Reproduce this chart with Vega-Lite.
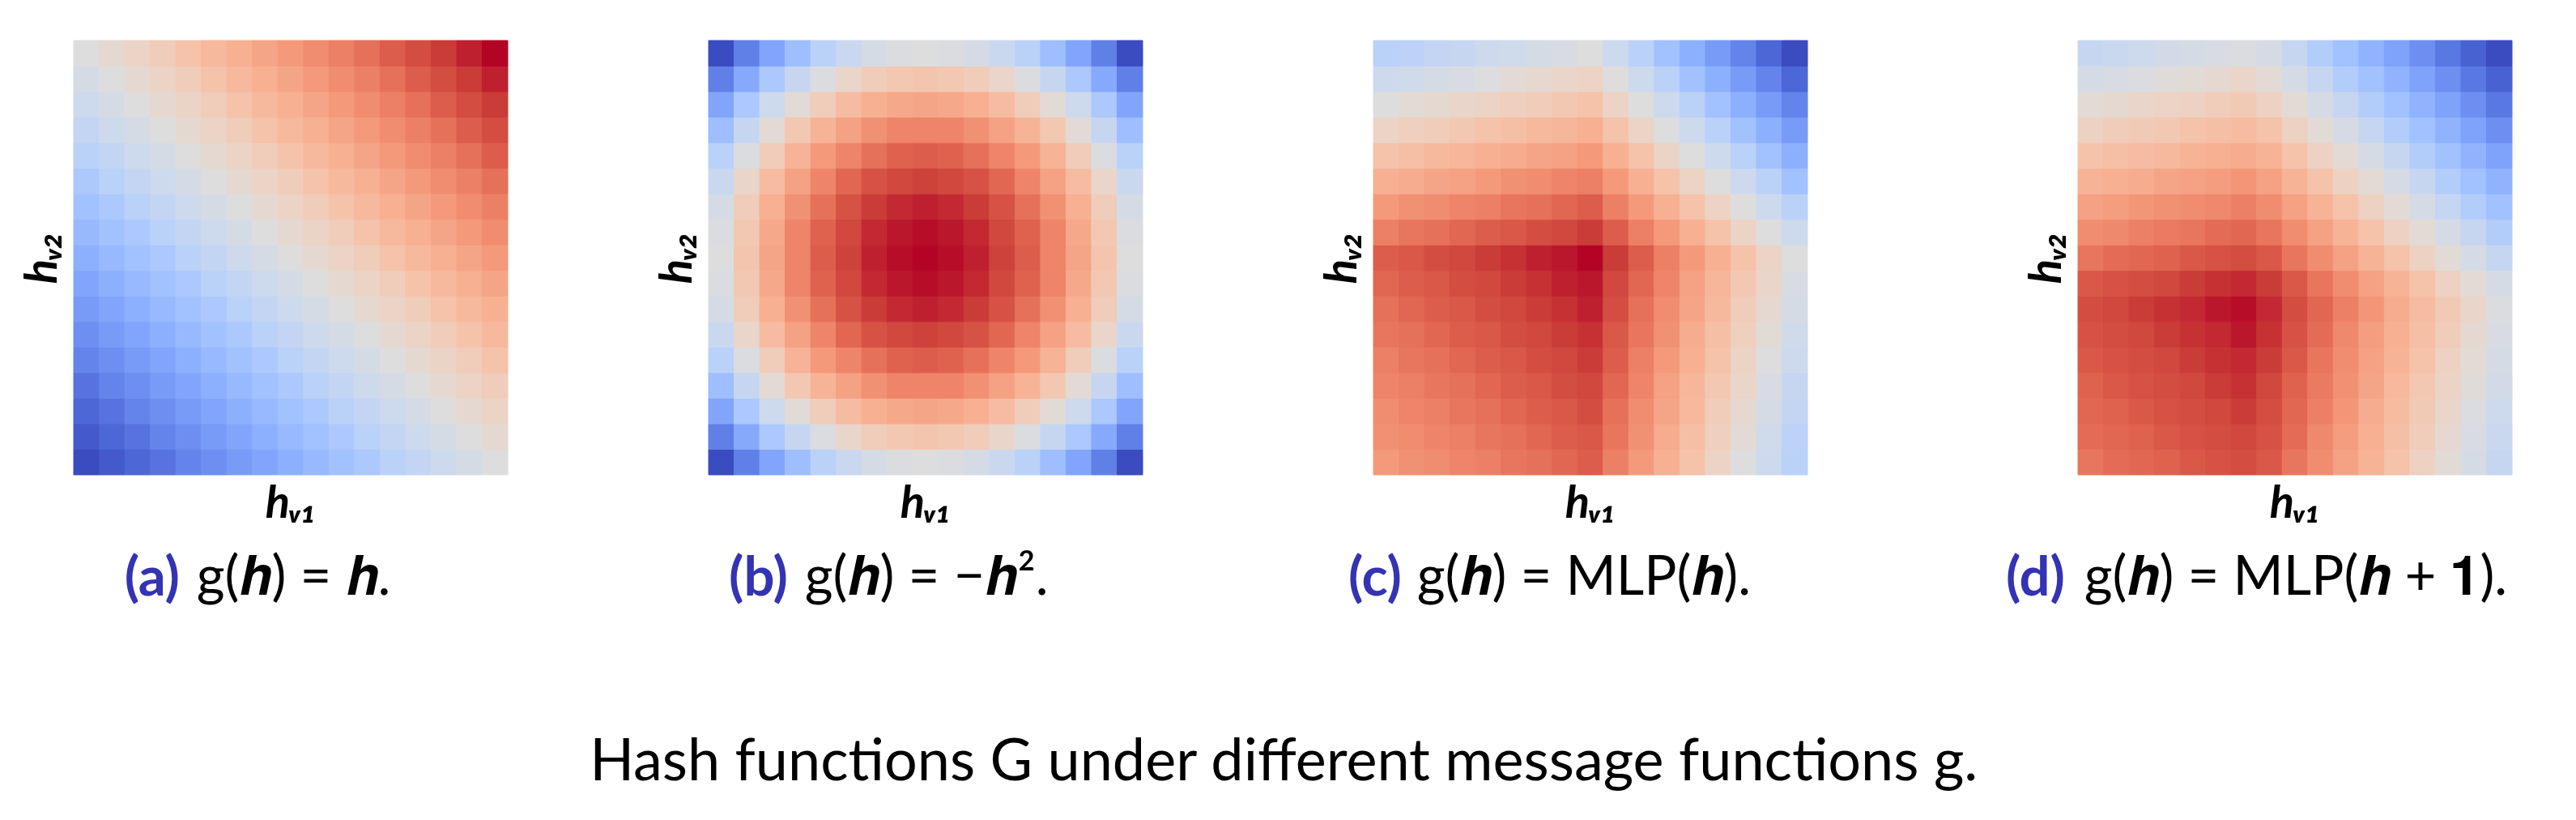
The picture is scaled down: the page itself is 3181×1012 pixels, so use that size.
{
"$schema": "https://vega.github.io/schema/vega-lite/v6.json",
"background": "white",
"padding": {"left": 24, "top": 49, "right": 0, "bottom": 0},
"config": {
 "view": {"stroke": null},
 "axis": {"labels": false, "ticks": false, "domain": false, "grid": false, "titleFont": "Lato", "titleFontSize": 56, "titleFontWeight": "bold", "titleFontStyle": "italic", "titleColor": "black"},
 "title": {"fontWeight": "normal", "color": "black"}
},
"datasets": {"g": [
{"x":0,"y":0,"a":0,"b":0,"c":75,"d":83},{"x":1,"y":0,"a":3,"b":12,"c":77,"d":85},{"x":2,"y":0,"a":6,"b":22,"c":78,"d":86},{"x":3,"y":0,"a":9,"b":30,"c":80,"d":87},{"x":4,"y":0,"a":13,"b":38,"c":81,"d":89},{"x":5,"y":0,"a":16,"b":43,"c":83,"d":90},{"x":6,"y":0,"a":19,"b":47,"c":84,"d":91},{"x":7,"y":0,"a":22,"b":49,"c":86,"d":89},{"x":8,"y":0,"a":25,"b":50,"c":88,"d":83},{"x":9,"y":0,"a":28,"b":49,"c":81,"d":78},{"x":10,"y":0,"a":31,"b":47,"c":75,"d":73},{"x":11,"y":0,"a":34,"b":43,"c":69,"d":68},{"x":12,"y":0,"a":38,"b":38,"c":63,"d":63},{"x":13,"y":0,"a":41,"b":30,"c":56,"d":57},{"x":14,"y":0,"a":44,"b":22,"c":50,"d":52},{"x":15,"y":0,"a":47,"b":12,"c":44,"d":47},{"x":16,"y":0,"a":50,"b":0,"c":38,"d":42},
{"x":0,"y":1,"a":3,"b":12,"c":77,"d":85},{"x":1,"y":1,"a":6,"b":23,"c":78,"d":86},{"x":2,"y":1,"a":9,"b":34,"c":80,"d":87},{"x":3,"y":1,"a":13,"b":42,"c":81,"d":89},{"x":4,"y":1,"a":16,"b":49,"c":83,"d":90},{"x":5,"y":1,"a":19,"b":55,"c":84,"d":91},{"x":6,"y":1,"a":22,"b":59,"c":86,"d":92},{"x":7,"y":1,"a":25,"b":61,"c":88,"d":90},{"x":8,"y":1,"a":28,"b":62,"c":89,"d":85},{"x":9,"y":1,"a":31,"b":61,"c":83,"d":79},{"x":10,"y":1,"a":34,"b":59,"c":77,"d":74},{"x":11,"y":1,"a":38,"b":55,"c":70,"d":69},{"x":12,"y":1,"a":41,"b":49,"c":64,"d":64},{"x":13,"y":1,"a":44,"b":42,"c":58,"d":59},{"x":14,"y":1,"a":47,"b":34,"c":52,"d":53},{"x":15,"y":1,"a":50,"b":23,"c":45,"d":48},{"x":16,"y":1,"a":53,"b":12,"c":39,"d":43},
{"x":0,"y":2,"a":6,"b":22,"c":78,"d":86},{"x":1,"y":2,"a":9,"b":34,"c":80,"d":87},{"x":2,"y":2,"a":13,"b":44,"c":81,"d":89},{"x":3,"y":2,"a":16,"b":52,"c":83,"d":90},{"x":4,"y":2,"a":19,"b":59,"c":84,"d":91},{"x":5,"y":2,"a":22,"b":65,"c":86,"d":92},{"x":6,"y":2,"a":25,"b":69,"c":88,"d":94},{"x":7,"y":2,"a":28,"b":71,"c":89,"d":91},{"x":8,"y":2,"a":31,"b":72,"c":91,"d":86},{"x":9,"y":2,"a":34,"b":71,"c":84,"d":81},{"x":10,"y":2,"a":38,"b":69,"c":78,"d":76},{"x":11,"y":2,"a":41,"b":65,"c":72,"d":70},{"x":12,"y":2,"a":44,"b":59,"c":66,"d":65},{"x":13,"y":2,"a":47,"b":52,"c":59,"d":60},{"x":14,"y":2,"a":50,"b":44,"c":53,"d":55},{"x":15,"y":2,"a":53,"b":34,"c":47,"d":49},{"x":16,"y":2,"a":56,"b":22,"c":41,"d":44},
{"x":0,"y":3,"a":9,"b":30,"c":80,"d":87},{"x":1,"y":3,"a":13,"b":42,"c":81,"d":89},{"x":2,"y":3,"a":16,"b":52,"c":83,"d":90},{"x":3,"y":3,"a":19,"b":61,"c":84,"d":91},{"x":4,"y":3,"a":22,"b":68,"c":86,"d":92},{"x":5,"y":3,"a":25,"b":73,"c":88,"d":94},{"x":6,"y":3,"a":28,"b":77,"c":89,"d":95},{"x":7,"y":3,"a":31,"b":80,"c":91,"d":92},{"x":8,"y":3,"a":34,"b":80,"c":92,"d":87},{"x":9,"y":3,"a":38,"b":80,"c":86,"d":82},{"x":10,"y":3,"a":41,"b":77,"c":80,"d":77},{"x":11,"y":3,"a":44,"b":73,"c":73,"d":72},{"x":12,"y":3,"a":47,"b":68,"c":67,"d":66},{"x":13,"y":3,"a":50,"b":61,"c":61,"d":61},{"x":14,"y":3,"a":53,"b":52,"c":55,"d":56},{"x":15,"y":3,"a":56,"b":42,"c":48,"d":51},{"x":16,"y":3,"a":59,"b":30,"c":42,"d":46},
{"x":0,"y":4,"a":13,"b":38,"c":81,"d":89},{"x":1,"y":4,"a":16,"b":49,"c":83,"d":90},{"x":2,"y":4,"a":19,"b":59,"c":84,"d":91},{"x":3,"y":4,"a":22,"b":68,"c":86,"d":92},{"x":4,"y":4,"a":25,"b":75,"c":88,"d":94},{"x":5,"y":4,"a":28,"b":80,"c":89,"d":95},{"x":6,"y":4,"a":31,"b":84,"c":91,"d":96},{"x":7,"y":4,"a":34,"b":87,"c":92,"d":94},{"x":8,"y":4,"a":38,"b":88,"c":94,"d":89},{"x":9,"y":4,"a":41,"b":87,"c":88,"d":83},{"x":10,"y":4,"a":44,"b":84,"c":81,"d":78},{"x":11,"y":4,"a":47,"b":80,"c":75,"d":73},{"x":12,"y":4,"a":50,"b":75,"c":69,"d":68},{"x":13,"y":4,"a":53,"b":68,"c":63,"d":63},{"x":14,"y":4,"a":56,"b":59,"c":56,"d":57},{"x":15,"y":4,"a":59,"b":49,"c":50,"d":52},{"x":16,"y":4,"a":63,"b":38,"c":44,"d":47},
{"x":0,"y":5,"a":16,"b":43,"c":83,"d":90},{"x":1,"y":5,"a":19,"b":55,"c":84,"d":91},{"x":2,"y":5,"a":22,"b":65,"c":86,"d":92},{"x":3,"y":5,"a":25,"b":73,"c":88,"d":94},{"x":4,"y":5,"a":28,"b":80,"c":89,"d":95},{"x":5,"y":5,"a":31,"b":86,"c":91,"d":96},{"x":6,"y":5,"a":34,"b":90,"c":92,"d":98},{"x":7,"y":5,"a":38,"b":92,"c":94,"d":95},{"x":8,"y":5,"a":41,"b":93,"c":95,"d":90},{"x":9,"y":5,"a":44,"b":92,"c":89,"d":85},{"x":10,"y":5,"a":47,"b":90,"c":83,"d":79},{"x":11,"y":5,"a":50,"b":86,"c":77,"d":74},{"x":12,"y":5,"a":53,"b":80,"c":70,"d":69},{"x":13,"y":5,"a":56,"b":73,"c":64,"d":64},{"x":14,"y":5,"a":59,"b":65,"c":58,"d":59},{"x":15,"y":5,"a":63,"b":55,"c":52,"d":53},{"x":16,"y":5,"a":66,"b":43,"c":45,"d":48},
{"x":0,"y":6,"a":19,"b":47,"c":84,"d":91},{"x":1,"y":6,"a":22,"b":59,"c":86,"d":92},{"x":2,"y":6,"a":25,"b":69,"c":88,"d":94},{"x":3,"y":6,"a":28,"b":77,"c":89,"d":95},{"x":4,"y":6,"a":31,"b":84,"c":91,"d":96},{"x":5,"y":6,"a":34,"b":90,"c":92,"d":98},{"x":6,"y":6,"a":38,"b":94,"c":94,"d":99},{"x":7,"y":6,"a":41,"b":96,"c":95,"d":96},{"x":8,"y":6,"a":44,"b":97,"c":97,"d":91},{"x":9,"y":6,"a":47,"b":96,"c":91,"d":86},{"x":10,"y":6,"a":50,"b":94,"c":84,"d":81},{"x":11,"y":6,"a":53,"b":90,"c":78,"d":76},{"x":12,"y":6,"a":56,"b":84,"c":72,"d":70},{"x":13,"y":6,"a":59,"b":77,"c":66,"d":65},{"x":14,"y":6,"a":63,"b":69,"c":59,"d":60},{"x":15,"y":6,"a":66,"b":59,"c":53,"d":55},{"x":16,"y":6,"a":69,"b":47,"c":47,"d":49},
{"x":0,"y":7,"a":22,"b":49,"c":86,"d":89},{"x":1,"y":7,"a":25,"b":61,"c":88,"d":90},{"x":2,"y":7,"a":28,"b":71,"c":89,"d":91},{"x":3,"y":7,"a":31,"b":80,"c":91,"d":92},{"x":4,"y":7,"a":34,"b":87,"c":92,"d":94},{"x":5,"y":7,"a":38,"b":92,"c":94,"d":95},{"x":6,"y":7,"a":41,"b":96,"c":95,"d":96},{"x":7,"y":7,"a":44,"b":98,"c":97,"d":94},{"x":8,"y":7,"a":47,"b":99,"c":98,"d":89},{"x":9,"y":7,"a":50,"b":98,"c":92,"d":83},{"x":10,"y":7,"a":53,"b":96,"c":86,"d":78},{"x":11,"y":7,"a":56,"b":92,"c":80,"d":73},{"x":12,"y":7,"a":59,"b":87,"c":73,"d":68},{"x":13,"y":7,"a":63,"b":80,"c":67,"d":63},{"x":14,"y":7,"a":66,"b":71,"c":61,"d":57},{"x":15,"y":7,"a":69,"b":61,"c":55,"d":52},{"x":16,"y":7,"a":72,"b":49,"c":48,"d":47},
{"x":0,"y":8,"a":25,"b":50,"c":88,"d":83},{"x":1,"y":8,"a":28,"b":62,"c":89,"d":85},{"x":2,"y":8,"a":31,"b":72,"c":91,"d":86},{"x":3,"y":8,"a":34,"b":80,"c":92,"d":87},{"x":4,"y":8,"a":38,"b":88,"c":94,"d":89},{"x":5,"y":8,"a":41,"b":93,"c":95,"d":90},{"x":6,"y":8,"a":44,"b":97,"c":97,"d":91},{"x":7,"y":8,"a":47,"b":99,"c":98,"d":89},{"x":8,"y":8,"a":50,"b":100,"c":100,"d":83},{"x":9,"y":8,"a":53,"b":99,"c":94,"d":78},{"x":10,"y":8,"a":56,"b":97,"c":88,"d":73},{"x":11,"y":8,"a":59,"b":93,"c":81,"d":68},{"x":12,"y":8,"a":63,"b":88,"c":75,"d":63},{"x":13,"y":8,"a":66,"b":80,"c":69,"d":57},{"x":14,"y":8,"a":69,"b":72,"c":63,"d":52},{"x":15,"y":8,"a":72,"b":62,"c":56,"d":47},{"x":16,"y":8,"a":75,"b":50,"c":50,"d":42},
{"x":0,"y":9,"a":28,"b":49,"c":81,"d":78},{"x":1,"y":9,"a":31,"b":61,"c":83,"d":79},{"x":2,"y":9,"a":34,"b":71,"c":84,"d":81},{"x":3,"y":9,"a":38,"b":80,"c":86,"d":82},{"x":4,"y":9,"a":41,"b":87,"c":88,"d":83},{"x":5,"y":9,"a":44,"b":92,"c":89,"d":85},{"x":6,"y":9,"a":47,"b":96,"c":91,"d":86},{"x":7,"y":9,"a":50,"b":98,"c":92,"d":83},{"x":8,"y":9,"a":53,"b":99,"c":94,"d":78},{"x":9,"y":9,"a":56,"b":98,"c":88,"d":73},{"x":10,"y":9,"a":59,"b":96,"c":81,"d":68},{"x":11,"y":9,"a":63,"b":92,"c":75,"d":63},{"x":12,"y":9,"a":66,"b":87,"c":69,"d":57},{"x":13,"y":9,"a":69,"b":80,"c":63,"d":52},{"x":14,"y":9,"a":72,"b":71,"c":56,"d":47},{"x":15,"y":9,"a":75,"b":61,"c":50,"d":42},{"x":16,"y":9,"a":78,"b":49,"c":44,"d":36},
{"x":0,"y":10,"a":31,"b":47,"c":75,"d":73},{"x":1,"y":10,"a":34,"b":59,"c":77,"d":74},{"x":2,"y":10,"a":38,"b":69,"c":78,"d":76},{"x":3,"y":10,"a":41,"b":77,"c":80,"d":77},{"x":4,"y":10,"a":44,"b":84,"c":81,"d":78},{"x":5,"y":10,"a":47,"b":90,"c":83,"d":79},{"x":6,"y":10,"a":50,"b":94,"c":84,"d":81},{"x":7,"y":10,"a":53,"b":96,"c":86,"d":78},{"x":8,"y":10,"a":56,"b":97,"c":88,"d":73},{"x":9,"y":10,"a":59,"b":96,"c":81,"d":68},{"x":10,"y":10,"a":63,"b":94,"c":75,"d":63},{"x":11,"y":10,"a":66,"b":90,"c":69,"d":57},{"x":12,"y":10,"a":69,"b":84,"c":63,"d":52},{"x":13,"y":10,"a":72,"b":77,"c":56,"d":47},{"x":14,"y":10,"a":75,"b":69,"c":50,"d":42},{"x":15,"y":10,"a":78,"b":59,"c":44,"d":36},{"x":16,"y":10,"a":81,"b":47,"c":38,"d":31},
{"x":0,"y":11,"a":34,"b":43,"c":69,"d":68},{"x":1,"y":11,"a":38,"b":55,"c":70,"d":69},{"x":2,"y":11,"a":41,"b":65,"c":72,"d":70},{"x":3,"y":11,"a":44,"b":73,"c":73,"d":72},{"x":4,"y":11,"a":47,"b":80,"c":75,"d":73},{"x":5,"y":11,"a":50,"b":86,"c":77,"d":74},{"x":6,"y":11,"a":53,"b":90,"c":78,"d":76},{"x":7,"y":11,"a":56,"b":92,"c":80,"d":73},{"x":8,"y":11,"a":59,"b":93,"c":81,"d":68},{"x":9,"y":11,"a":63,"b":92,"c":75,"d":63},{"x":10,"y":11,"a":66,"b":90,"c":69,"d":57},{"x":11,"y":11,"a":69,"b":86,"c":63,"d":52},{"x":12,"y":11,"a":72,"b":80,"c":56,"d":47},{"x":13,"y":11,"a":75,"b":73,"c":50,"d":42},{"x":14,"y":11,"a":78,"b":65,"c":44,"d":36},{"x":15,"y":11,"a":81,"b":55,"c":38,"d":31},{"x":16,"y":11,"a":84,"b":43,"c":31,"d":26},
{"x":0,"y":12,"a":38,"b":38,"c":63,"d":63},{"x":1,"y":12,"a":41,"b":49,"c":64,"d":64},{"x":2,"y":12,"a":44,"b":59,"c":66,"d":65},{"x":3,"y":12,"a":47,"b":68,"c":67,"d":66},{"x":4,"y":12,"a":50,"b":75,"c":69,"d":68},{"x":5,"y":12,"a":53,"b":80,"c":70,"d":69},{"x":6,"y":12,"a":56,"b":84,"c":72,"d":70},{"x":7,"y":12,"a":59,"b":87,"c":73,"d":68},{"x":8,"y":12,"a":63,"b":88,"c":75,"d":63},{"x":9,"y":12,"a":66,"b":87,"c":69,"d":57},{"x":10,"y":12,"a":69,"b":84,"c":63,"d":52},{"x":11,"y":12,"a":72,"b":80,"c":56,"d":47},{"x":12,"y":12,"a":75,"b":75,"c":50,"d":42},{"x":13,"y":12,"a":78,"b":68,"c":44,"d":36},{"x":14,"y":12,"a":81,"b":59,"c":38,"d":31},{"x":15,"y":12,"a":84,"b":49,"c":31,"d":26},{"x":16,"y":12,"a":88,"b":38,"c":25,"d":21},
{"x":0,"y":13,"a":41,"b":30,"c":56,"d":57},{"x":1,"y":13,"a":44,"b":42,"c":58,"d":59},{"x":2,"y":13,"a":47,"b":52,"c":59,"d":60},{"x":3,"y":13,"a":50,"b":61,"c":61,"d":61},{"x":4,"y":13,"a":53,"b":68,"c":63,"d":63},{"x":5,"y":13,"a":56,"b":73,"c":64,"d":64},{"x":6,"y":13,"a":59,"b":77,"c":66,"d":65},{"x":7,"y":13,"a":63,"b":80,"c":67,"d":63},{"x":8,"y":13,"a":66,"b":80,"c":69,"d":57},{"x":9,"y":13,"a":69,"b":80,"c":63,"d":52},{"x":10,"y":13,"a":72,"b":77,"c":56,"d":47},{"x":11,"y":13,"a":75,"b":73,"c":50,"d":42},{"x":12,"y":13,"a":78,"b":68,"c":44,"d":36},{"x":13,"y":13,"a":81,"b":61,"c":38,"d":31},{"x":14,"y":13,"a":84,"b":52,"c":31,"d":26},{"x":15,"y":13,"a":88,"b":42,"c":25,"d":21},{"x":16,"y":13,"a":91,"b":30,"c":19,"d":16},
{"x":0,"y":14,"a":44,"b":22,"c":50,"d":52},{"x":1,"y":14,"a":47,"b":34,"c":52,"d":53},{"x":2,"y":14,"a":50,"b":44,"c":53,"d":55},{"x":3,"y":14,"a":53,"b":52,"c":55,"d":56},{"x":4,"y":14,"a":56,"b":59,"c":56,"d":57},{"x":5,"y":14,"a":59,"b":65,"c":58,"d":59},{"x":6,"y":14,"a":63,"b":69,"c":59,"d":60},{"x":7,"y":14,"a":66,"b":71,"c":61,"d":57},{"x":8,"y":14,"a":69,"b":72,"c":63,"d":52},{"x":9,"y":14,"a":72,"b":71,"c":56,"d":47},{"x":10,"y":14,"a":75,"b":69,"c":50,"d":42},{"x":11,"y":14,"a":78,"b":65,"c":44,"d":36},{"x":12,"y":14,"a":81,"b":59,"c":38,"d":31},{"x":13,"y":14,"a":84,"b":52,"c":31,"d":26},{"x":14,"y":14,"a":88,"b":44,"c":25,"d":21},{"x":15,"y":14,"a":91,"b":34,"c":19,"d":16},{"x":16,"y":14,"a":94,"b":22,"c":13,"d":10},
{"x":0,"y":15,"a":47,"b":12,"c":44,"d":47},{"x":1,"y":15,"a":50,"b":23,"c":45,"d":48},{"x":2,"y":15,"a":53,"b":34,"c":47,"d":49},{"x":3,"y":15,"a":56,"b":42,"c":48,"d":51},{"x":4,"y":15,"a":59,"b":49,"c":50,"d":52},{"x":5,"y":15,"a":63,"b":55,"c":52,"d":53},{"x":6,"y":15,"a":66,"b":59,"c":53,"d":55},{"x":7,"y":15,"a":69,"b":61,"c":55,"d":52},{"x":8,"y":15,"a":72,"b":62,"c":56,"d":47},{"x":9,"y":15,"a":75,"b":61,"c":50,"d":42},{"x":10,"y":15,"a":78,"b":59,"c":44,"d":36},{"x":11,"y":15,"a":81,"b":55,"c":38,"d":31},{"x":12,"y":15,"a":84,"b":49,"c":31,"d":26},{"x":13,"y":15,"a":88,"b":42,"c":25,"d":21},{"x":14,"y":15,"a":91,"b":34,"c":19,"d":16},{"x":15,"y":15,"a":94,"b":23,"c":13,"d":10},{"x":16,"y":15,"a":97,"b":12,"c":6,"d":5},
{"x":0,"y":16,"a":50,"b":0,"c":38,"d":42},{"x":1,"y":16,"a":53,"b":12,"c":39,"d":43},{"x":2,"y":16,"a":56,"b":22,"c":41,"d":44},{"x":3,"y":16,"a":59,"b":30,"c":42,"d":46},{"x":4,"y":16,"a":63,"b":38,"c":44,"d":47},{"x":5,"y":16,"a":66,"b":43,"c":45,"d":48},{"x":6,"y":16,"a":69,"b":47,"c":47,"d":49},{"x":7,"y":16,"a":72,"b":49,"c":48,"d":47},{"x":8,"y":16,"a":75,"b":50,"c":50,"d":42},{"x":9,"y":16,"a":78,"b":49,"c":44,"d":36},{"x":10,"y":16,"a":81,"b":47,"c":38,"d":31},{"x":11,"y":16,"a":84,"b":43,"c":31,"d":26},{"x":12,"y":16,"a":88,"b":38,"c":25,"d":21},{"x":13,"y":16,"a":91,"b":30,"c":19,"d":16},{"x":14,"y":16,"a":94,"b":22,"c":13,"d":10},{"x":15,"y":16,"a":97,"b":12,"c":6,"d":5},{"x":16,"y":16,"a":100,"b":0,"c":0,"d":0}
]},
"data": {"name": "g"},
"title": {"text": "Hash functions G under different message functions g.", "orient": "bottom", "anchor": "middle", "font": "Lato", "fontSize": 72, "baseline": "alphabetic", "offset": 215, "dx": 22},
"spacing": 217,
"hconcat": [
 {"spacing": 180, "hconcat": [
  {"title": {"text": "g(𝒉) = 𝒉.", "orient": "bottom", "anchor": "middle", "align": "left", "baseline": "alphabetic", "dx": -83, "offset": -14, "font": "Lato", "fontSize": 67},
   "vconcat": [{
    "width": 536, "height": 536,
    "title": {"text": "(a)", "orient": "bottom", "anchor": "middle", "frame": "group", "align": "right", "baseline": "alphabetic", "dx": -137, "offset": 86, "font": "Lato", "fontSize": 67, "fontWeight": "bold", "color": "#3333b3"},
    "mark": {"type": "rect", "strokeWidth": 1},
    "encoding": {
     "x": {"field": "x", "type": "ordinal", "axis": {"title": "hᵥ₁", "titlePadding": 8}},
     "y": {"field": "y", "type": "ordinal", "sort": "descending", "axis": {"title": "hᵥ₂", "titlePadding": 10}},
     "color": {"field": "a", "type": "quantitative", "legend": null, "scale": {"domain": [0,6.25,12.5,18.75,25,31.25,37.5,43.75,50,56.25,62.5,68.75,75,81.25,87.5,93.75,100], "range": ["#3b4cc0","#4d68d7","#6282ea","#779af7","#8db0fe","#a3c2ff","#b8d0f9","#ccd9ee","#dddddd","#ecd3c5","#f5c4ac","#f7b193","#f49a7b","#ec7f63","#de604d","#cb3e38","#b40426"], "interpolate": "rgb"}},
     "stroke": {"field": "a", "type": "quantitative", "legend": null, "scale": {"domain": [0,6.25,12.5,18.75,25,31.25,37.5,43.75,50,56.25,62.5,68.75,75,81.25,87.5,93.75,100], "range": ["#3b4cc0","#4d68d7","#6282ea","#779af7","#8db0fe","#a3c2ff","#b8d0f9","#ccd9ee","#dddddd","#ecd3c5","#f5c4ac","#f7b193","#f49a7b","#ec7f63","#de604d","#cb3e38","#b40426"], "interpolate": "rgb"}}
    }
   }]
  },
  {"title": {"text": "g(𝒉) = −𝒉².", "orient": "bottom", "anchor": "middle", "align": "left", "baseline": "alphabetic", "dx": -116, "offset": -14, "font": "Lato", "fontSize": 67},
   "vconcat": [{
    "width": 536, "height": 536,
    "title": {"text": "(b)", "orient": "bottom", "anchor": "middle", "frame": "group", "align": "right", "baseline": "alphabetic", "dx": -170, "offset": 86, "font": "Lato", "fontSize": 67, "fontWeight": "bold", "color": "#3333b3"},
    "mark": {"type": "rect", "strokeWidth": 1},
    "encoding": {
     "x": {"field": "x", "type": "ordinal", "axis": {"title": "hᵥ₁", "titlePadding": 8}},
     "y": {"field": "y", "type": "ordinal", "sort": "descending", "axis": {"title": "hᵥ₂", "titlePadding": 10}},
     "color": {"field": "b", "type": "quantitative", "legend": null, "scale": {"domain": [0,6.25,12.5,18.75,25,31.25,37.5,43.75,50,56.25,62.5,68.75,75,81.25,87.5,93.75,100], "range": ["#3b4cc0","#4d68d7","#6282ea","#779af7","#8db0fe","#a3c2ff","#b8d0f9","#ccd9ee","#dddddd","#ecd3c5","#f5c4ac","#f7b193","#f49a7b","#ec7f63","#de604d","#cb3e38","#b40426"], "interpolate": "rgb"}},
     "stroke": {"field": "b", "type": "quantitative", "legend": null, "scale": {"domain": [0,6.25,12.5,18.75,25,31.25,37.5,43.75,50,56.25,62.5,68.75,75,81.25,87.5,93.75,100], "range": ["#3b4cc0","#4d68d7","#6282ea","#779af7","#8db0fe","#a3c2ff","#b8d0f9","#ccd9ee","#dddddd","#ecd3c5","#f5c4ac","#f7b193","#f49a7b","#ec7f63","#de604d","#cb3e38","#b40426"], "interpolate": "rgb"}}
    }
   }]
  }
 ]},
 {"spacing": 244, "hconcat": [
  {"title": {"text": "g(𝒉) = MLP(𝒉).", "orient": "bottom", "anchor": "middle", "align": "left", "baseline": "alphabetic", "dx": -181, "offset": -14, "font": "Lato", "fontSize": 67},
   "vconcat": [{
    "width": 536, "height": 536,
    "title": {"text": "(c)", "orient": "bottom", "anchor": "middle", "frame": "group", "align": "right", "baseline": "alphabetic", "dx": -233, "offset": 86, "font": "Lato", "fontSize": 67, "fontWeight": "bold", "color": "#3333b3"},
    "mark": {"type": "rect", "strokeWidth": 1},
    "encoding": {
     "x": {"field": "x", "type": "ordinal", "axis": {"title": "hᵥ₁", "titlePadding": 8}},
     "y": {"field": "y", "type": "ordinal", "sort": "descending", "axis": {"title": "hᵥ₂", "titlePadding": 10}},
     "color": {"field": "c", "type": "quantitative", "legend": null, "scale": {"domain": [0,6.25,12.5,18.75,25,31.25,37.5,43.75,50,56.25,62.5,68.75,75,81.25,87.5,93.75,100], "range": ["#3b4cc0","#4d68d7","#6282ea","#779af7","#8db0fe","#a3c2ff","#b8d0f9","#ccd9ee","#dddddd","#ecd3c5","#f5c4ac","#f7b193","#f49a7b","#ec7f63","#de604d","#cb3e38","#b40426"], "interpolate": "rgb"}},
     "stroke": {"field": "c", "type": "quantitative", "legend": null, "scale": {"domain": [0,6.25,12.5,18.75,25,31.25,37.5,43.75,50,56.25,62.5,68.75,75,81.25,87.5,93.75,100], "range": ["#3b4cc0","#4d68d7","#6282ea","#779af7","#8db0fe","#a3c2ff","#b8d0f9","#ccd9ee","#dddddd","#ecd3c5","#f5c4ac","#f7b193","#f49a7b","#ec7f63","#de604d","#cb3e38","#b40426"], "interpolate": "rgb"}}
    }
   }]
  },
  {"title": {"text": "g(𝒉) = MLP(𝒉 + 𝟏).", "orient": "bottom", "anchor": "middle", "align": "left", "baseline": "alphabetic", "dx": -216, "offset": -14, "font": "Lato", "fontSize": 67},
   "vconcat": [{
    "width": 536, "height": 536,
    "title": {"text": "(d)", "orient": "bottom", "anchor": "middle", "frame": "group", "align": "right", "baseline": "alphabetic", "dx": -284, "offset": 86, "font": "Lato", "fontSize": 67, "fontWeight": "bold", "color": "#3333b3"},
    "mark": {"type": "rect", "strokeWidth": 1},
    "encoding": {
     "x": {"field": "x", "type": "ordinal", "axis": {"title": "hᵥ₁", "titlePadding": 8}},
     "y": {"field": "y", "type": "ordinal", "sort": "descending", "axis": {"title": "hᵥ₂", "titlePadding": 10}},
     "color": {"field": "d", "type": "quantitative", "legend": null, "scale": {"domain": [0,6.25,12.5,18.75,25,31.25,37.5,43.75,50,56.25,62.5,68.75,75,81.25,87.5,93.75,100], "range": ["#3b4cc0","#4d68d7","#6282ea","#779af7","#8db0fe","#a3c2ff","#b8d0f9","#ccd9ee","#dddddd","#ecd3c5","#f5c4ac","#f7b193","#f49a7b","#ec7f63","#de604d","#cb3e38","#b40426"], "interpolate": "rgb"}},
     "stroke": {"field": "d", "type": "quantitative", "legend": null, "scale": {"domain": [0,6.25,12.5,18.75,25,31.25,37.5,43.75,50,56.25,62.5,68.75,75,81.25,87.5,93.75,100], "range": ["#3b4cc0","#4d68d7","#6282ea","#779af7","#8db0fe","#a3c2ff","#b8d0f9","#ccd9ee","#dddddd","#ecd3c5","#f5c4ac","#f7b193","#f49a7b","#ec7f63","#de604d","#cb3e38","#b40426"], "interpolate": "rgb"}}
    }
   }]
  }
 ]}
]
}
